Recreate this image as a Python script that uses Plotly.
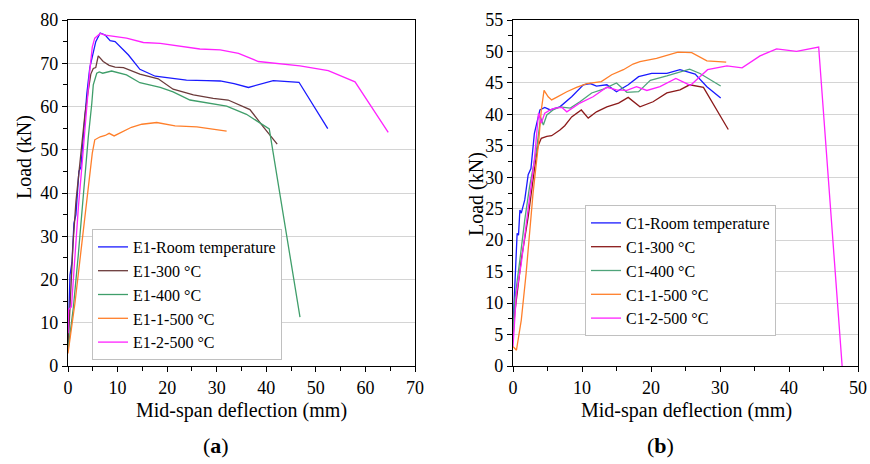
import plotly.graph_objects as go

# ---------------- (a) E1 series ----------------
e1_room_x = [0, 0.4, 0.8, 1.2, 1.6, 2.2, 2.6, 3.0, 3.4, 3.8, 4.4, 5.0, 5.6, 6.5, 7.5, 8.5, 9.5, 12.2, 14.5, 17.6, 20.6, 23.9, 28.0, 30.7, 33.5, 36.4, 41.4, 46.6, 52.4]
e1_room_y = [5, 21, 24, 33, 35, 45, 46, 52, 56, 63, 69, 72, 75, 77, 76.5, 75.2, 75.0, 71.9, 68.6, 67.0, 66.6, 66.1, 66.0, 65.9, 65.3, 64.4, 66.0, 65.6, 54.9]

e1_300_x = [0, 0.5, 1.0, 1.6, 2.2, 2.8, 3.4, 4.0, 4.6, 5.1, 5.6, 6.1, 7.1, 8.3, 9.5, 11.2, 14.5, 18.2, 21.2, 25.3, 29.3, 32.3, 36.7, 39.4, 42.2]
e1_300_y = [4, 18, 28, 38, 45, 52, 58, 63, 67.5, 68.8, 69.0, 71.7, 70.4, 69.5, 69.1, 69.0, 67.5, 66.4, 64.0, 62.7, 61.9, 61.5, 59.3, 55.3, 51.3]

e1_400_x = [0, 1.1, 2.1, 3.1, 4.1, 4.8, 5.1, 5.8, 6.3, 7.0, 8.8, 11.8, 14.5, 18.6, 21.2, 24.6, 28.6, 32.0, 36.0, 40.6, 46.8]
e1_400_y = [3.7, 13.7, 26.0, 39.9, 53.0, 60.7, 65.0, 67.7, 68.0, 67.7, 68.2, 67.3, 65.5, 64.4, 63.4, 61.5, 60.7, 60.1, 58.2, 54.8, 11.3]

e1_1_500_x = [0, 1.4, 2.8, 4.1, 4.9, 5.4, 6.5, 7.5, 8.3, 9.3, 10.5, 12.8, 14.9, 17.9, 21.6, 26.0, 32.0]
e1_1_500_y = [2.9, 14.5, 28.4, 40.7, 49.2, 52.3, 53.0, 53.3, 53.8, 53.2, 53.9, 55.2, 55.9, 56.3, 55.5, 55.3, 54.3]

e1_2_500_x = [0, 0.1, 0.7, 1.4, 2.1, 2.8, 3.6, 4.4, 4.9, 5.4, 6.5, 7.5, 11.8, 15.2, 18.6, 21.9, 26.6, 30.7, 34.4, 38.4, 46.8, 52.5, 57.9, 64.6]
e1_2_500_y = [7.6, 13.0, 13.7, 26.1, 36.8, 46.1, 58.4, 68.4, 73.8, 75.8, 76.9, 76.5, 75.8, 74.8, 74.6, 74.0, 73.3, 73.1, 72.3, 70.4, 69.4, 68.3, 65.7, 54.0]

# ---------------- (b) C1 series ----------------
c1_room_x = [0, 0.25, 0.6, 0.8, 1.0, 1.2, 1.7, 2.2, 2.6, 3.1, 3.9, 4.6, 5.4, 6.8, 8.5, 10.2, 11.2, 12.1, 13.6, 15.0, 16.7, 18.2, 20.1, 22.3, 24.2, 26.4, 28.1, 30.1]
c1_room_y = [6.2, 11.6, 21.1, 20.8, 24.8, 24.3, 26.4, 30.4, 31.4, 37.0, 40.7, 41.1, 40.7, 41.2, 42.8, 44.7, 44.9, 44.5, 44.7, 43.6, 44.7, 46.0, 46.5, 46.5, 47.1, 46.4, 44.4, 42.6]

c1_300_x = [0, 0.25, 1.2, 2.2, 3.1, 3.6, 4.1, 4.9, 5.6, 6.8, 7.5, 8.5, 9.9, 10.9, 12.1, 13.6, 15.3, 16.7, 18.4, 20.3, 22.3, 24.2, 25.6, 27.6, 31.2]
c1_300_y = [4.5, 8.4, 16.9, 23.7, 31.2, 34.9, 36.2, 36.5, 36.6, 37.5, 38.2, 39.6, 40.7, 39.4, 40.4, 41.2, 41.8, 42.7, 41.2, 42.0, 43.4, 43.9, 44.7, 44.3, 37.6]

c1_400_x = [0, 0.25, 1.0, 1.7, 2.4, 3.4, 4.0, 4.4, 4.9, 5.8, 6.8, 8.3, 9.7, 11.4, 13.1, 15.0, 16.5, 18.2, 19.9, 22.3, 25.6, 27.1, 30.1]
c1_400_y = [5, 10.5, 16.9, 23.2, 28.5, 34.3, 39.5, 38.3, 39.9, 40.7, 41.2, 41.0, 42.0, 43.4, 44.0, 45.0, 43.5, 43.6, 45.4, 46.1, 47.2, 46.5, 44.5]

c1_1_500_x = [0, 0.5, 1.2, 1.9, 2.9, 3.7, 4.1, 4.5, 5.1, 5.6, 6.3, 7.8, 9.2, 10.7, 12.8, 14.3, 16.0, 17.4, 18.4, 20.8, 23.9, 25.9, 28.1, 30.9]
c1_1_500_y = [3.1, 2.5, 7.3, 14.7, 27.4, 35.4, 40.7, 43.8, 42.8, 42.3, 42.7, 43.6, 44.3, 44.9, 45.2, 46.3, 47.1, 48.0, 48.4, 48.9, 49.9, 49.8, 48.5, 48.3]

c1_2_500_x = [0, 0.5, 1.2, 2.2, 3.1, 3.7, 4.1, 4.6, 5.4, 6.1, 7.1, 7.8, 9.7, 11.6, 13.6, 15.0, 16.5, 17.9, 19.4, 21.3, 23.6, 25.7, 28.2, 31.0, 33.2, 35.8, 38.2, 41.1, 44.3, 47.7]
c1_2_500_y = [3.1, 11.6, 16.3, 25.3, 32.8, 40.2, 38.6, 40.2, 40.7, 41.0, 41.1, 40.4, 41.8, 42.8, 44.3, 43.9, 43.8, 44.4, 43.8, 44.4, 45.7, 44.6, 47.1, 47.7, 47.4, 49.3, 50.4, 50.0, 50.7, 0.0]

names_a = ["E1-Room temperature", "E1-300 °C", "E1-400 °C", "E1-1-500 °C", "E1-2-500 °C"]
names_b = ["C1-Room temperature", "C1-300 °C", "C1-400 °C", "C1-1-500 °C", "C1-2-500 °C"]
colors_a = ["#1a1aff", "#6b3a3a", "#3f9e6a", "#ff7f2a", "#ff22ff"]
colors_b = ["#1a1aff", "#8b1a1a", "#4fa47a", "#ff7f2a", "#ff22ff"]

FONT = "Liberation Serif"
W, H = 870, 464

def px(x):
    return x / W

def py(y):
    return (H - y) / H

fig = go.Figure()

series_a = [(e1_room_x, e1_room_y), (e1_300_x, e1_300_y), (e1_400_x, e1_400_y),
            (e1_1_500_x, e1_1_500_y), (e1_2_500_x, e1_2_500_y)]
series_b = [(c1_room_x, c1_room_y), (c1_300_x, c1_300_y), (c1_400_x, c1_400_y),
            (c1_1_500_x, c1_1_500_y), (c1_2_500_x, c1_2_500_y)]

for (xs, ys), n, c in zip(series_a, names_a, colors_a):
    fig.add_trace(go.Scatter(x=xs, y=ys, mode="lines", name=n,
                             line=dict(color=c, width=1.3),
                             xaxis="x", yaxis="y", legend="legend"))
for (xs, ys), n, c in zip(series_b, names_b, colors_b):
    fig.add_trace(go.Scatter(x=xs, y=ys, mode="lines", name=n,
                             line=dict(color=c, width=1.3),
                             xaxis="x2", yaxis="y2", legend="legend2"))

axis_common = dict(showline=True, linecolor="black", linewidth=1.3, mirror=True,
                   ticks="outside", ticklen=5, tickwidth=1, tickcolor="black",
                   zeroline=False, automargin=False,
                   tickfont=dict(family=FONT, size=18, color="black"))

fig.update_layout(
    width=W, height=H,
    margin=dict(l=0, r=0, t=0, b=0, autoexpand=False),
    paper_bgcolor="white", plot_bgcolor="white",
    font=dict(family=FONT, color="black"),
    xaxis=dict(domain=[px(68), px(415)], range=[0, 70], dtick=10,
               showgrid=False, anchor="y",
               minor=dict(dtick=5, ticks="outside", ticklen=4, tickcolor="black"),
               **axis_common),
    yaxis=dict(domain=[py(366), py(20)], range=[0, 80], dtick=10,
               showgrid=True, gridcolor="#d4d4d4", gridwidth=1.3, anchor="x",
               minor=dict(dtick=5, ticks="outside", ticklen=4, tickcolor="black", showgrid=False),
               **axis_common),
    xaxis2=dict(domain=[px(513), px(858)], range=[0, 50], dtick=10,
                showgrid=False, anchor="y2",
                minor=dict(dtick=5, ticks="outside", ticklen=4, tickcolor="black"),
                **axis_common),
    yaxis2=dict(domain=[py(366), py(20)], range=[0, 55], dtick=5,
                showgrid=True, gridcolor="#d4d4d4", gridwidth=1.3, anchor="x2",
                minor=dict(dtick=2.5, ticks="outside", ticklen=4, tickcolor="black", showgrid=False),
                **axis_common),
    legend=dict(x=px(92), y=py(360), xanchor="left", yanchor="bottom",
                bgcolor="white", bordercolor="#c0c0c0", borderwidth=1,
                font=dict(family=FONT, size=16, color="black"),
                itemwidth=30, tracegroupgap=0),
    legend2=dict(x=px(585), y=py(336), xanchor="left", yanchor="bottom",
                 bgcolor="white", bordercolor="#c0c0c0", borderwidth=1,
                 font=dict(family=FONT, size=16, color="black"),
                 itemwidth=30, tracegroupgap=0),
    showlegend=True,
)

ann = []
ann.append(dict(text="Mid-span deflection (mm)", x=px(241), y=py(410), xref="paper", yref="paper",
                showarrow=False, xanchor="center", yanchor="middle",
                font=dict(family=FONT, size=20, color="black")))
ann.append(dict(text="Mid-span deflection (mm)", x=px(686), y=py(410), xref="paper", yref="paper",
                showarrow=False, xanchor="center", yanchor="middle",
                font=dict(family=FONT, size=20, color="black")))
ann.append(dict(text="(<b>a</b>)", x=px(216), y=py(445), xref="paper", yref="paper",
                showarrow=False, xanchor="center", yanchor="middle",
                font=dict(family=FONT, size=22, color="black")))
ann.append(dict(text="(<b>b</b>)", x=px(660), y=py(445), xref="paper", yref="paper",
                showarrow=False, xanchor="center", yanchor="middle",
                font=dict(family=FONT, size=22, color="black")))
ann.append(dict(text="Load (kN)", x=px(24), y=py(157), xref="paper", yref="paper",
                showarrow=False, xanchor="center", yanchor="middle", textangle=-90,
                font=dict(family=FONT, size=20, color="black")))
ann.append(dict(text="Load (kN)", x=px(476), y=py(194), xref="paper", yref="paper",
                showarrow=False, xanchor="center", yanchor="middle", textangle=-90,
                font=dict(family=FONT, size=20, color="black")))
fig.update_layout(annotations=ann)

fig.write_html("out.html",
               config={"displayModeBar": False},
               post_script="document.body.style.margin='0';document.body.style.padding='0';document.body.style.overflow='hidden';")
